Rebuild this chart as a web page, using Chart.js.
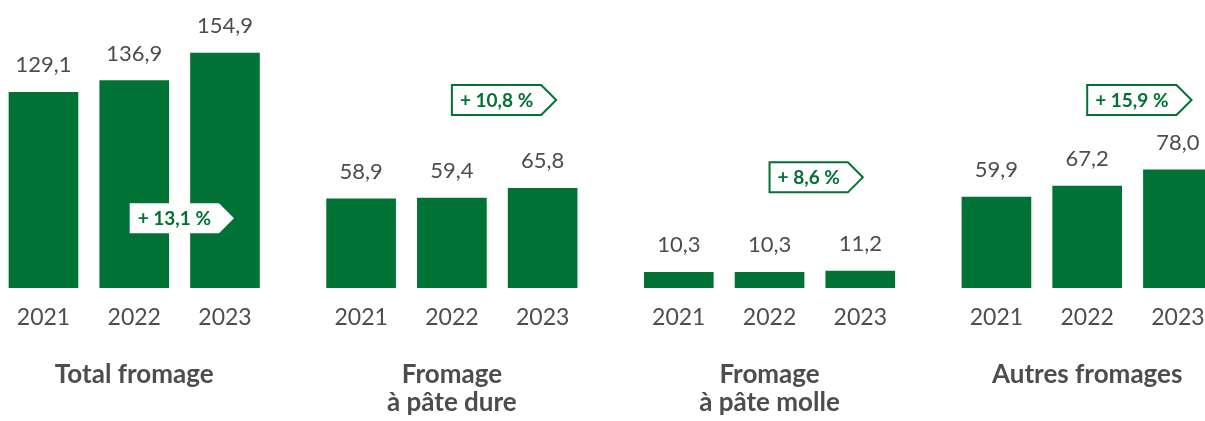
<!DOCTYPE html>
<html lang="fr">
<head>
<meta charset="utf-8">
<title>Fromages 2021-2023</title>
<script src="https://cdn.jsdelivr.net/npm/chart.js@4"></script>
<style>
  html, body { margin: 0; padding: 0; background: #fff; }
  #wrap { width: 1205px; height: 421px; }
</style>
</head>
<body>
<div id="wrap"><canvas id="myChart" width="1205" height="421"></canvas></div>
<script>
// data
const years = ['2021', '2022', '2023'];
const groupTitles = [
  ['Total fromage'],
  ['Fromage', 'à pâte dure'],
  ['Fromage', 'à pâte molle'],
  ['Autres fromages']
];
const totalFromage = [129.1, 136.9, 154.9];
const pateDure = [58.9, 59.4, 65.8];
const pateMolle = [10.3, 10.3, 11.2];
const autresFromages = [59.9, 67.2, 78.0];
const growth = ['+ 13,1 %', '+ 10,8 %', '+ 8,6 %', '+ 15,9 %'];

const groups = [totalFromage, pateDure, pateMolle, autresFromages];
const GROUP_STEP = 3.5;   // x units between first bars of two groups
const GREEN = '#007236';
const GREY = '#4d4d4d';
const FONT = 'Lato, "Noto Sans", sans-serif';

// one point per bar, x placed on a linear scale
const points = [];
groups.forEach((vals, g) => {
  vals.forEach((v, i) => points.push({ x: g * GROUP_STEP + i, y: v }));
});
const tickPositions = points.map(p => p.x);

const fmt = v => v.toFixed(1).replace('.', ',');

// value above each bar, titles under each group, growth tags
const decorations = {
  id: 'decorations',
  afterDatasetsDraw(chart, args, opts) {
    const { ctx, scales: { x, y }, chartArea } = chart;
    const bars = chart.getDatasetMeta(0).data;
    ctx.save();

    // values
    ctx.fillStyle = GREY;
    ctx.font = '22px ' + FONT;
    ctx.textAlign = 'center';
    ctx.textBaseline = 'middle';
    bars.forEach((bar, i) => {
      ctx.fillText(fmt(points[i].y), bar.x, bar.y - 27);
    });

    // group titles
    ctx.font = 'bold 26px ' + FONT;
    groupTitles.forEach((lines, g) => {
      const cx = x.getPixelForValue(g * GROUP_STEP + 1);
      lines.forEach((line, k) => {
        ctx.fillText(line, cx, chartArea.bottom + 87 + k * 28);
      });
    });

    // growth tags
    ctx.font = 'bold 19px ' + FONT;
    ctx.textAlign = 'left';
    growth.forEach((txt, g) => {
      const left = x.getPixelForValue(g * GROUP_STEP + opts.tagOffset[g]);
      const cy = y.getPixelForValue(opts.tagLevel[g]);
      const h = 30, tip = 15, pad = 8;
      const body = ctx.measureText(txt).width + pad * 2;
      ctx.beginPath();
      ctx.moveTo(left, cy - h / 2);
      ctx.lineTo(left + body, cy - h / 2);
      ctx.lineTo(left + body + tip, cy);
      ctx.lineTo(left + body, cy + h / 2);
      ctx.lineTo(left, cy + h / 2);
      ctx.closePath();
      ctx.fillStyle = '#fff';
      ctx.fill();
      if (opts.tagBorder[g]) {
        ctx.strokeStyle = GREEN;
        ctx.lineWidth = 2;
        ctx.stroke();
      }
      ctx.fillStyle = GREEN;
      ctx.fillText(txt, left + pad, cy + 1);
    });

    ctx.restore();
  }
};

const config = {
  type: 'bar',
  data: {
    datasets: [{
      data: points,
      backgroundColor: GREEN,
      borderWidth: 0,
      barThickness: 69
    }]
  },
  options: {
    responsive: false,
    animation: false,
    layout: { padding: 0 },
    plugins: {
      legend: { display: false },
      tooltip: { enabled: false },
      decorations: {
        tagOffset: [0.95, 1.0, 1.0, 1.0],
        tagLevel: [46, 124, 73, 124],
        tagBorder: [false, true, true, true]
      }
    },
    scales: {
      x: {
        type: 'linear',
        offset: false,
        min: -0.479,
        max: 12.798,
        grid: { display: false, drawTicks: false },
        border: { display: false },
        afterBuildTicks: scale => {
          scale.ticks = tickPositions.map(v => ({ value: v }));
        },
        afterFit: scale => {
          scale.height = 133;
          scale.paddingLeft = 0;
          scale.paddingRight = 0;
        },
        ticks: {
          autoSkip: false,
          maxRotation: 0,
          padding: 16,
          color: GREY,
          font: { family: FONT, size: 23 },
          callback: (value, index) => years[index % years.length]
        }
      },
      y: {
        display: false,
        min: 0,
        max: 190
      }
    }
  },
  plugins: [decorations]
};

const myChart = new Chart(document.getElementById('myChart'), config);
</script>
</body>
</html>
